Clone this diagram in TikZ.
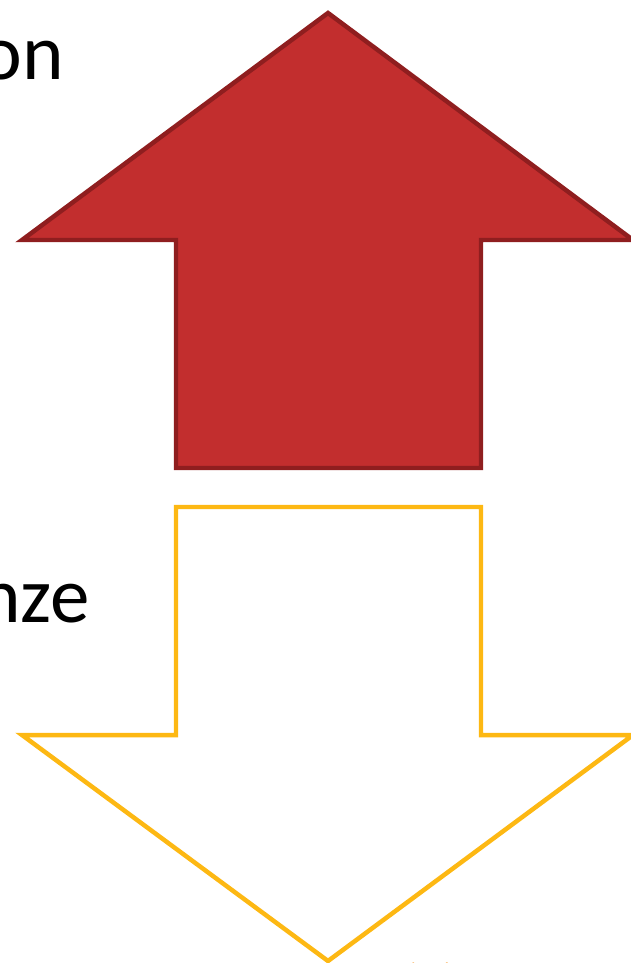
\documentclass[tikz,border=0pt]{standalone}
\usepackage{fontspec}
\setmainfont{Carlito}
\definecolor{upfill}{HTML}{C22E2E}
\definecolor{updraw}{HTML}{8F1E1F}
\definecolor{downdraw}{HTML}{FDB813}
\definecolor{dotorange}{HTML}{F7941D}
\tikzset{
  uparrow/.style={fill=upfill, draw=updraw, line width=4.5pt*0.02/0.03528, line join=miter},
  downarrow/.style={fill=white, draw=downdraw, line width=4.5pt*0.02/0.03528, line join=miter},
  lbl/.style={font=\fontsize{45}{54}\selectfont, inner sep=0pt, anchor=base east}
}
\begin{document}
\begin{tikzpicture}[x=0.02cm, y=-0.02cm]
\useasboundingbox (0,0) rectangle (631,963);
\clip (0,0) rectangle (631,963);
\draw[uparrow] (328,13) -- (633,240) -- (481,240) -- (481,468) -- (176,468) -- (176,240) -- (22,240) -- cycle;
\draw[downarrow] (176,507) -- (481,507) -- (481,735) -- (633,735) -- (328,961) -- (22,735) -- (176,735) -- cycle;
\node[lbl] (t1) at (64,80) {on};
\node[lbl] (t2) at (90,622) {nze};
\draw[dotorange, line width=4pt*0.02/0.03528] (412,964) arc[start angle=120, end angle=60, radius=36];
\end{tikzpicture}
\end{document}
